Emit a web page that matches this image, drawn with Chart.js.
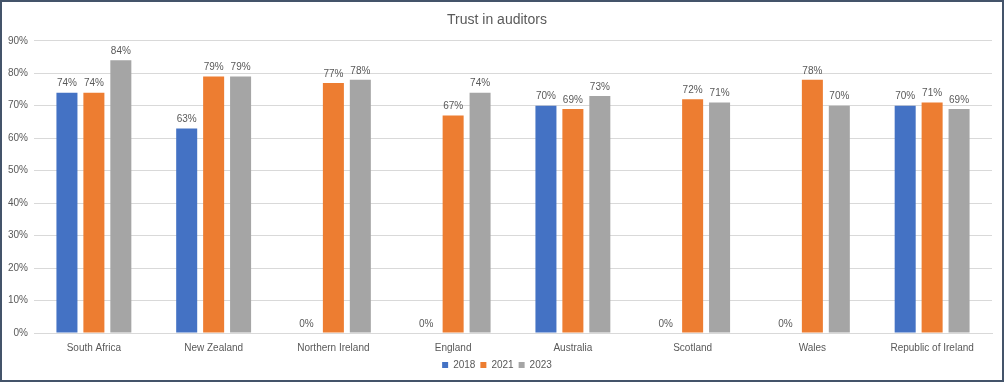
<!DOCTYPE html>
<html>
<head>
<meta charset="utf-8">
<script src="https://cdn.jsdelivr.net/npm/chart.js@4.4.0/dist/chart.umd.min.js"></script>
<style>
  html, body { margin: 0; padding: 0; background: #fff; }
  #wrap {
    position: absolute; left: 0; top: 0;
    width: 1000px; height: 378px;
    border: 2px solid #44546a;
    background: #fff;
  }
  canvas { display: block; }
</style>
</head>
<body>
<div id="wrap"><canvas id="grafico"></canvas></div>
<script>
const paises = ["South Africa", "New Zealand", "Northern Ireland", "England", "Australia", "Scotland", "Wales", "Republic of Ireland"];
const valores2018 = [74, 63, 0, 0, 70, 0, 0, 70];
const valores2021 = [74, 79, 77, 67, 69, 72, 78, 71];
const valores2023 = [84, 79, 78, 74, 73, 71, 70, 69];
const ticksY = [0, 10, 20, 30, 40, 50, 60, 70, 80, 90];

const corTexto = "#595959";
const fonte = "'Liberation Sans', 'DejaVu Sans', sans-serif";

// rótulos em cima das barras (sem plugin externo)
const rotulos = {
  id: "rotulos",
  afterDatasetsDraw(chart) {
    const ctx = chart.ctx;
    ctx.save();
    ctx.font = "10px " + fonte;
    ctx.fillStyle = corTexto;
    ctx.textAlign = "center";
    ctx.textBaseline = "bottom";
    chart.data.datasets.forEach((ds, i) => {
      chart.getDatasetMeta(i).data.forEach((bar, j) => {
        ctx.fillText(ds.data[j] + "%", bar.x, bar.y - 4);
      });
    });
    ctx.restore();
  }
};

const canvas = document.getElementById("grafico");
canvas.width = 1000;
canvas.height = 378;

new Chart(canvas.getContext("2d"), {
  type: "bar",
  data: {
    labels: paises,
    datasets: [
      { label: "2018", data: valores2018, backgroundColor: "#4472c4" },
      { label: "2021", data: valores2021, backgroundColor: "#ed7d31" },
      { label: "2023", data: valores2023, backgroundColor: "#a5a5a5" }
    ]
  },
  options: {
    responsive: false,
    animation: false,
    layout: { padding: { left: 0, right: 10, top: 6, bottom: 0 } },
    datasets: {
      bar: { categoryPercentage: 0.675, barPercentage: 0.78 }
    },
    scales: {
      x: {
        grid: { display: false },
        border: { color: "#d9d9d9" },
        ticks: { color: corTexto, padding: 1, font: { family: fonte, size: 10 }, maxRotation: 0 }
      },
      y: {
        min: 0,
        max: 90,
        afterBuildTicks: (axis) => { axis.ticks = ticksY.map(v => ({ value: v })); },
        grid: { color: "#d9d9d9", drawTicks: false },
        border: { display: false },
        ticks: {
          color: corTexto,
          padding: 6,
          font: { family: fonte, size: 10 },
          callback: (v) => v + "%"
        }
      }
    },
    plugins: {
      title: {
        display: true,
        text: "Trust in auditors",
        color: corTexto,
        font: { family: fonte, size: 14, weight: "normal" },
        padding: { top: 4, bottom: 12 }
      },
      legend: {
        position: "bottom",
        labels: {
          color: corTexto,
          font: { family: fonte, size: 10 },
          boxWidth: 6,
          boxHeight: 6,
          padding: 5
        }
      },
      tooltip: { enabled: false }
    }
  },
  plugins: [rotulos]
});
</script>
</body>
</html>
